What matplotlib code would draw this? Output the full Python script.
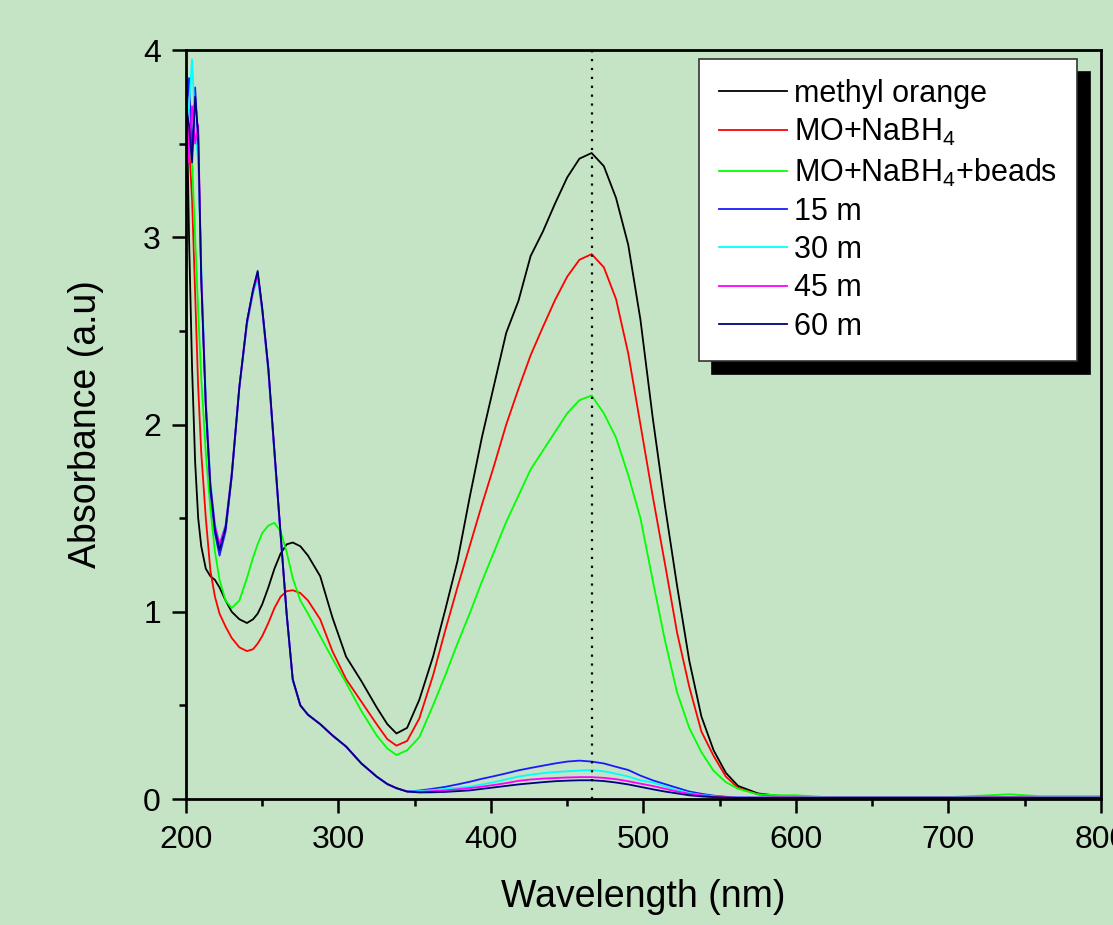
import matplotlib
matplotlib.use("Agg")
import matplotlib.pyplot as plt
from matplotlib.ticker import MultipleLocator

plt.rcParams['font.family'] = ['Liberation Sans', 'DejaVu Sans']
plt.rcParams['mathtext.default'] = 'regular'

# wavelength grid (nm), shared by all spectra
wavelength = [200, 202, 204, 206, 208, 210, 213, 216, 219, 222, 226, 230, 235, 240, 244, 247,
              250, 254, 258, 262, 266, 270, 275, 280, 288, 296, 305, 315, 325, 332, 338, 345,
              353, 362, 370, 378, 386, 394, 402, 410, 418, 426, 434, 442, 450, 458, 466, 474,
              482, 490, 498, 506, 514, 522, 530, 538, 546, 554, 562, 575, 590, 600, 620, 650,
              700, 740, 760, 800]

methyl_orange = [3.95, 3.00, 2.30, 1.80, 1.50, 1.35, 1.23, 1.19, 1.17, 1.13, 1.06, 1.00, 0.96, 0.94, 0.96, 0.99,
                 1.04, 1.13, 1.23, 1.31, 1.36, 1.37, 1.35, 1.30, 1.19, 0.97, 0.76, 0.63, 0.49, 0.40, 0.35, 0.38,
                 0.53, 0.76, 1.01, 1.27, 1.61, 1.93, 2.21, 2.49, 2.66, 2.90, 3.03, 3.18, 3.32, 3.42, 3.45, 3.38,
                 3.21, 2.96, 2.56, 2.04, 1.57, 1.14, 0.74, 0.44, 0.26, 0.14, 0.07, 0.03, 0.015, 0.01, 0.01, 0.01,
                 0.01, 0.01, 0.01, 0.01]

mo_nabh4 = [3.70, 3.50, 3.20, 2.70, 2.20, 1.85, 1.50, 1.22, 1.08, 0.99, 0.92, 0.86, 0.81, 0.79, 0.80, 0.83,
            0.87, 0.94, 1.02, 1.08, 1.11, 1.115, 1.10, 1.06, 0.96, 0.79, 0.64, 0.52, 0.40, 0.32, 0.285, 0.31,
            0.43, 0.66, 0.90, 1.13, 1.35, 1.57, 1.78, 2.00, 2.19, 2.37, 2.52, 2.665, 2.79, 2.88, 2.91, 2.84,
            2.67, 2.38, 2.00, 1.62, 1.26, 0.89, 0.60, 0.36, 0.23, 0.12, 0.06, 0.025, 0.012, 0.01, 0.01, 0.01,
            0.01, 0.01, 0.01, 0.01]

mo_nabh4_beads = [3.30, 3.55, 3.40, 3.00, 2.60, 2.25, 1.85, 1.55, 1.32, 1.17, 1.06, 1.02, 1.06, 1.18, 1.29, 1.36,
                  1.42, 1.46, 1.475, 1.43, 1.32, 1.18, 1.06, 0.99, 0.87, 0.75, 0.62, 0.47, 0.34, 0.27, 0.235, 0.26,
                  0.33, 0.50, 0.66, 0.83, 0.99, 1.16, 1.32, 1.48, 1.62, 1.76, 1.86, 1.96, 2.06, 2.13, 2.155, 2.06,
                  1.93, 1.73, 1.50, 1.17, 0.85, 0.57, 0.38, 0.25, 0.15, 0.09, 0.055, 0.025, 0.02, 0.02, 0.01, 0.01,
                  0.01, 0.025, 0.015, 0.015]

t15 = [3.60, 3.85, 3.45, 3.80, 3.50, 2.80, 2.10, 1.65, 1.42, 1.30, 1.43, 1.72, 2.20, 2.55, 2.72, 2.81,
       2.62, 2.30, 1.85, 1.42, 0.99, 0.635, 0.50, 0.45, 0.40, 0.34, 0.28, 0.19, 0.12, 0.08, 0.058, 0.04,
       0.045, 0.055, 0.065, 0.078, 0.092, 0.108, 0.122, 0.137, 0.153, 0.166, 0.178, 0.19, 0.20, 0.205, 0.20, 0.19,
       0.172, 0.155, 0.125, 0.10, 0.08, 0.06, 0.04, 0.028, 0.018, 0.012, 0.01, 0.008, 0.008, 0.008, 0.008, 0.008,
       0.008, 0.008, 0.008, 0.008]

t30 = [3.50, 3.70, 3.95, 3.60, 3.40, 2.85, 2.15, 1.70, 1.47, 1.36, 1.47, 1.74, 2.20, 2.53, 2.70, 2.78,
       2.60, 2.28, 1.84, 1.41, 0.99, 0.64, 0.50, 0.45, 0.40, 0.34, 0.28, 0.19, 0.12, 0.08, 0.058, 0.04,
       0.042, 0.048, 0.054, 0.06, 0.066, 0.078, 0.09, 0.105, 0.12, 0.13, 0.138, 0.144, 0.148, 0.152, 0.155, 0.148,
       0.135, 0.12, 0.10, 0.088, 0.068, 0.048, 0.032, 0.022, 0.015, 0.01, 0.01, 0.008, 0.008, 0.008, 0.008, 0.008,
       0.008, 0.008, 0.008, 0.008]

t45 = [3.85, 3.40, 3.70, 3.50, 3.60, 2.80, 2.12, 1.68, 1.46, 1.36, 1.46, 1.74, 2.20, 2.54, 2.71, 2.80,
       2.61, 2.29, 1.85, 1.41, 0.99, 0.64, 0.50, 0.45, 0.40, 0.34, 0.28, 0.19, 0.12, 0.08, 0.058, 0.04,
       0.038, 0.042, 0.046, 0.052, 0.058, 0.066, 0.075, 0.085, 0.097, 0.104, 0.109, 0.112, 0.115, 0.117, 0.117, 0.113,
       0.106, 0.095, 0.082, 0.07, 0.055, 0.04, 0.028, 0.02, 0.013, 0.01, 0.008, 0.008, 0.008, 0.008, 0.008, 0.008,
       0.008, 0.008, 0.008, 0.008]

t60 = [3.70, 3.60, 3.40, 3.75, 3.55, 2.78, 2.10, 1.67, 1.44, 1.33, 1.45, 1.73, 2.20, 2.55, 2.72, 2.82,
       2.62, 2.30, 1.86, 1.42, 0.99, 0.64, 0.50, 0.45, 0.40, 0.34, 0.28, 0.19, 0.12, 0.08, 0.058, 0.04,
       0.035, 0.036, 0.038, 0.042, 0.046, 0.054, 0.062, 0.07, 0.078, 0.084, 0.09, 0.095, 0.098, 0.10, 0.10, 0.096,
       0.088, 0.078, 0.065, 0.052, 0.04, 0.03, 0.02, 0.014, 0.01, 0.008, 0.006, 0.006, 0.006, 0.006, 0.006, 0.006,
       0.006, 0.006, 0.006, 0.006]

series = [
    (methyl_orange, 'black', 'methyl orange'),
    (mo_nabh4, '#ff0000', 'MO+NaBH$_4$'),
    (mo_nabh4_beads, '#00ff00', 'MO+NaBH$_4$+beads'),
    (t15, '#1a1aff', '15 m'),
    (t30, '#00ffff', '30 m'),
    (t45, '#ff00ff', '45 m'),
    (t60, '#000080', '60 m'),
]

peak_wl = 466
bg = '#c5e3c5'

fig = plt.figure(figsize=(11.13, 9.25), dpi=100, facecolor=bg)
ax = fig.add_axes([0.1671, 0.1362, 0.8221, 0.8097], facecolor=bg)

for vals, col, lab in series:
    ax.plot(wavelength, vals, color=col, lw=1.3, label=lab)

ax.axvline(peak_wl, color='black', ls=(0, (1, 3)), lw=1.6)

ax.set_xlim(200, 800)
ax.set_ylim(0, 4)
ax.xaxis.set_major_locator(MultipleLocator(100))
ax.xaxis.set_minor_locator(MultipleLocator(50))
ax.yaxis.set_major_locator(MultipleLocator(1))
ax.yaxis.set_minor_locator(MultipleLocator(0.5))
ax.tick_params(which='both', direction='out', width=1.8, top=False, right=False,
               labelsize=23)
ax.tick_params(axis='x', pad=9)
ax.tick_params(axis='y', pad=8)
ax.tick_params(which='major', length=10)
ax.tick_params(which='minor', length=5)
for sp in ax.spines.values():
    sp.set_linewidth(2)

ax.set_xlabel('Wavelength (nm)', fontsize=27, labelpad=17)
ax.set_ylabel('Absorbance (a.u)', fontsize=27, labelpad=28)

leg = ax.legend(loc='upper right', bbox_to_anchor=(0.974, 0.988), fontsize=22,
                frameon=True, fancybox=False, framealpha=1, edgecolor='#333333',
                handlelength=2.2, handletextpad=0.25, labelspacing=0.27,
                borderpad=0.65, borderaxespad=0,
                shadow={'color': 'black', 'alpha': 1, 'ox': 9, 'oy': -9})
leg.get_frame().set_linewidth(1.2)

fig.savefig('out.png', dpi=100, facecolor=bg)
